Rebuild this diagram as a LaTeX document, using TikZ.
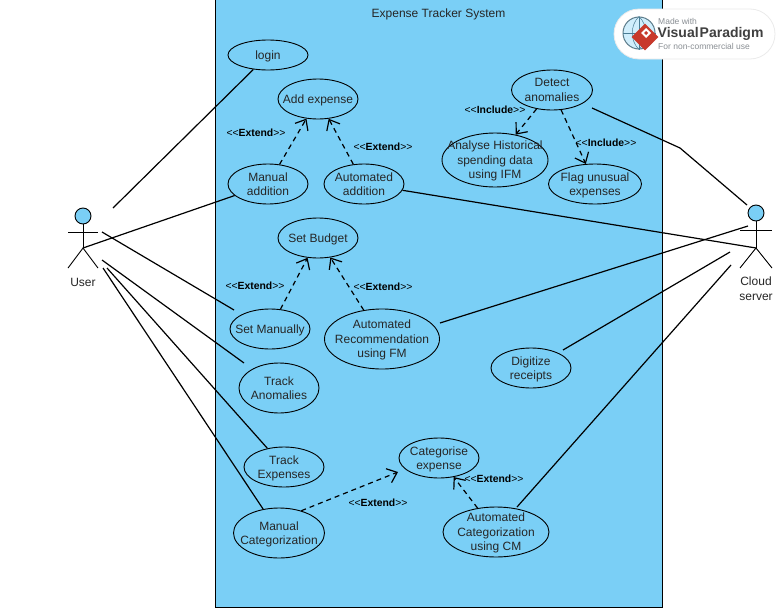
\documentclass[tikz,border=0pt]{standalone}
\usepackage{fontspec}
\setmainfont{Liberation Sans}
\usetikzlibrary{arrows.meta, shapes.geometric}
\definecolor{sysblue}{HTML}{7ACFF6}
\definecolor{markgrey}{HTML}{8A8F94}
\definecolor{markred}{HTML}{C8392B}
\tikzset{
    usecase/.style={draw=black, line width=.9pt, ellipse, inner xsep=-35pt, inner ysep=-18pt, align=center, text=black!85, font=\fontsize{12}{14.5}\selectfont},
    assoc/.style={black, line width=1.2pt},
    depend/.style={black, line width=1.2pt, dash pattern=on 5pt off 4pt, -{Straight Barb[length=9pt,width=15pt,line width=1.2pt]}},
    stereo/.style={text=black, inner sep=0pt, font=\fontsize{10.4}{12}\selectfont},
    limb/.style={black, line width=.9pt},
    actorhead/.style={draw=black, line width=.9pt, fill=sysblue, circle, minimum size=16pt, inner sep=0pt},
}
\newcommand{\stereotype}[1]{{<}{<}\textbf{#1}{>}{>}}
\newcommand{\nodepth}[1]{\raisebox{0pt}[\height][0pt]{#1}}
\begin{document}
\begin{tikzpicture}[x=1pt, y=-1pt]
    \useasboundingbox (0,0) rectangle (782,608);
    \fill[white] (0,0) rectangle (782,608);
    \draw[black, fill=sysblue, line width=1pt] (215.5,-2) rectangle (662,607.5);
    \node[stereo, text=black!85, font=\fontsize{12}{14}\selectfont] (title) at (438.5,14) {Expense Tracker System};

    % use cases
    \node[usecase, minimum width=80pt, minimum height=30pt] (login) at (268,55) {\nodepth{login}};
    \node[usecase, minimum width=80pt, minimum height=40pt] (addexp) at (318,99) {\nodepth{Add expense}};
    \node[usecase, minimum width=80pt, minimum height=40pt] (manadd) at (268,184) {Manual\\addition};
    \node[usecase, minimum width=80pt, minimum height=40pt] (autoadd) at (364,184) {Automated\\addition};
    \node[usecase, minimum width=80pt, minimum height=40pt] (setbudget) at (318,238) {\nodepth{Set Budget}};
    \node[usecase, minimum width=80pt, minimum height=40pt] (setman) at (270,329) {\nodepth{Set Manually}};
    \node[usecase, minimum width=115pt, minimum height=60pt] (autorec) at (382,339) {Automated\\Recommendation\\\nodepth{using FM}};
    \node[usecase, minimum width=80pt, minimum height=50pt] (trackanom) at (279,388) {Track\\Anomalies};
    \node[usecase, minimum width=80pt, minimum height=40pt] (trackexp) at (284,467) {Track\\\nodepth{Expenses}};
    \node[usecase, minimum width=91pt, minimum height=50pt] (mancat) at (279,533) {Manual\\\nodepth{Categorization}};
    \node[usecase, minimum width=80pt, minimum height=40pt] (catexp) at (439,458) {Categorise\\\nodepth{expense}};
    \node[usecase, minimum width=106pt, minimum height=50pt] (autocat) at (496,532) {Automated\\Categorization\\\nodepth{using CM}};
    \node[usecase, minimum width=80pt, minimum height=40pt] (digitize) at (531,368) {Digitize\\\nodepth{receipts}};
    \node[usecase, minimum width=81pt, minimum height=40pt] (detect) at (552,90) {Detect\\anomalies};
    \node[usecase, minimum width=106pt, minimum height=54pt] (analyse) at (495,160) {Analyse Historical\\spending data\\\nodepth{using IFM}};
    \node[usecase, minimum width=93pt, minimum height=40pt] (flag) at (595,184) {Flag unusual\\\nodepth{expenses}};

    % actors
    \node[actorhead] (userhead) at (83,216) {};
    \coordinate (userhip) at (83,248);
    \draw[limb] (userhead) -- (userhip);
    \draw[limb] (68,232) -- (98,232);
    \draw[limb] (68,268) -- (userhip) -- (98,268);
    \node[stereo, text=black!85, font=\fontsize{12}{14}\selectfont] (user) at (83,282) {User};

    \node[actorhead] (cloudhead) at (756,213) {};
    \coordinate (cloudhip) at (756,248);
    \draw[limb] (cloudhead) -- (cloudhip);
    \draw[limb] (740,230) -- (772,230);
    \draw[limb] (740,268) -- (cloudhip) -- (772,268);
    \node[stereo, text=black!85, align=center, font=\fontsize{12}{15}\selectfont] (cloud) at (756,289) {Cloud\\server};

    % free ends next to the actors
    \coordinate (userA) at (113,208);
    \coordinate (userB) at (102,232);
    \coordinate (userC) at (102,260);
    \coordinate (userD) at (107,268);
    \coordinate (userE) at (103,268);
    \coordinate (cloudA) at (747,205);
    \coordinate (cloudB) at (748,226);
    \coordinate (cloudC) at (730,252);
    \coordinate (cloudD) at (731,265);
    \coordinate (detectEnd) at (592,108);
    \coordinate (bend) at (680,148);
    \coordinate (catTip) at (398,472);
    % free ends next to the use cases
    \coordinate (setmanEnd) at (234,310);
    \coordinate (anomEnd) at (244,363);
    \coordinate (recEnd) at (440,323);
    \coordinate (digitEnd) at (563,350);
    \coordinate (autocatEnd) at (517,507);

    % associations
    \draw[assoc] (userA) -- (login);
    \draw[assoc] (userhip) -- (manadd);
    \draw[assoc] (userB) -- (setmanEnd);
    \draw[assoc] (userC) -- (anomEnd);
    \draw[assoc] (userD) -- (trackexp);
    \draw[assoc] (userE) -- (mancat);
    \draw[assoc] (detectEnd) -- (bend) -- (cloudA);
    \draw[assoc] (autoadd) -- (cloudhip);
    \draw[assoc] (recEnd) -- (cloudB);
    \draw[assoc] (digitEnd) -- (cloudC);
    \draw[assoc] (autocatEnd) -- (cloudD);

    % extend and include
    \draw[depend] (manadd) -- (addexp);
    \draw[depend] (autoadd) -- (addexp);
    \draw[depend] (setman) -- (setbudget);
    \draw[depend] (autorec) -- (setbudget);
    \draw[depend] (detect) -- (analyse);
    \draw[depend] (detect) -- (flag);
    \draw[depend] (mancat.45) -- (catTip);
    \draw[depend] (autocat) -- (catexp);

    \node[stereo] (extA) at (256,133) {\stereotype{Extend}};
    \node[stereo] (extB) at (383,147) {\stereotype{Extend}};
    \node[stereo] (extC) at (255,286) {\stereotype{Extend}};
    \node[stereo] (extD) at (383,287) {\stereotype{Extend}};
    \node[stereo] (extE) at (378,503) {\stereotype{Extend}};
    \node[stereo] (extF) at (494,479) {\stereotype{Extend}};
    \node[stereo] (incA) at (495,110) {\stereotype{Include}};
    \node[stereo] (incB) at (606,143) {\stereotype{Include}};

    % watermark
    \draw[white!92!black, fill=white, line width=.8pt, rounded corners=25pt] (614,9) rectangle (775,59);
    \node[draw=markgrey!50!sysblue!70!black, fill=sysblue!35, circle, line width=1pt, minimum size=32pt, inner sep=0pt] (globe) at (639,33) {};
    \draw[sysblue!60!black, line width=.5pt] (globe.west) -- (globe.east) (globe.north) -- (globe.south);
    \draw[sysblue!60!black, line width=.5pt] (globe.north) .. controls (630,25) and (630,41) .. (globe.south);
    \draw[sysblue!60!black, line width=.5pt] (globe.north) .. controls (648,25) and (648,41) .. (globe.south);
    \node[fill=markred, diamond, minimum size=27pt, inner sep=0pt] (gem) at (645,37) {};
    \fill[white] (641,33) -- (646,28) -- (651,33) -- (646,38) -- cycle;
    \fill[markred] (644,33) -- (646,31) -- (648,33) -- (646,35) -- cycle;
    \node[anchor=west, inner sep=0pt, text=markgrey, font=\fontsize{8.5}{10}\selectfont] (madewith) at (658,21) {Made with};
    \node[anchor=west, inner sep=0pt, text=black!75, font=\fontsize{14}{16}\selectfont\bfseries] (vpname) at (657.5,33.5) {Visual\hspace{1pt}Paradigm};
    \node[anchor=west, inner sep=0pt, text=markgrey, font=\fontsize{8.5}{10}\selectfont] (noncomm) at (658,46) {For non-commercial use};
\end{tikzpicture}
\end{document}
